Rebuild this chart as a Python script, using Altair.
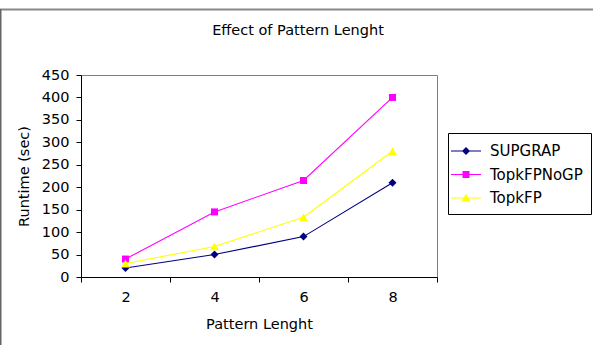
import altair as alt
import pandas as pd

# Runtime (sec) by pattern length for each algorithm
pattern_lengths = [2, 4, 6, 8]
series_names = ["SUPGRAP", "TopkFPNoGP", "TopkFP"]
supgrap = [20, 50, 90, 210]
topkfp_nogp = [40, 145, 215, 400]
topkfp = [30, 68, 133, 280]

series_colors = ["#000080", "#ff00ff", "#ffff00"]
marker_shapes = ["diamond", "square", "triangle-up"]
marker_sizes = [64, 49, 81]

# legend glyphs: a short line with the marker in the middle
legend_paths = [
    "M-1.5,-0.05H1.5V0.05H-1.5Z M0,-0.4L0.4,0L0,0.4L-0.4,0Z",
    "M-1.5,-0.05H1.5V0.05H-1.5Z M-0.35,-0.35H0.35V0.35H-0.35Z",
    "M-1.5,-0.05H1.5V0.05H-1.5Z M0,-0.42L0.45,0.36L-0.45,0.36Z",
]

rows = []
for name, vals in zip(series_names, [supgrap, topkfp_nogp, topkfp]):
    for length, v in zip(pattern_lengths, vals):
        rows.append({"length": length, "series": name, "runtime": v})
df = pd.DataFrame(rows)

FONT = "DejaVu Sans"
FS = 14.5

x_enc = alt.X(
    "length:O",
    title="Pattern Lenght",
    scale=alt.Scale(paddingInner=0, paddingOuter=0),
    axis=alt.Axis(
        labelAngle=0,
        tickBand="extent",
        tickSize=5,
        labelPadding=8,
        titlePadding=14,
        domainColor="black",
        tickColor="black",
        grid=False,
    ),
)
y_enc = alt.Y(
    "runtime:Q",
    title="Runtime (sec)",
    scale=alt.Scale(domain=[0, 450], nice=False),
    axis=alt.Axis(
        values=list(range(0, 451, 50)),
        tickSize=5,
        labelPadding=7,
        titlePadding=10,
        domainColor="black",
        tickColor="black",
        grid=False,
    ),
)

base = alt.Chart(df)

# one line + marker layer per series, fixed colours
series_layers = []
for name, color, shape, size in zip(series_names, series_colors, marker_shapes, marker_sizes):
    sub = base.transform_filter(alt.datum.series == name)
    series_layers.append(
        sub.mark_line(color=color, strokeWidth=1.1).encode(x=x_enc, y=y_enc)
    )
    series_layers.append(
        sub.mark_point(filled=True, shape=shape, size=size, color=color, opacity=1).encode(
            x=x_enc, y=y_enc
        )
    )

# legend-only layer: no rows pass the filter, the legend is built from the scales
legend_layer = (
    base.transform_filter("datum.runtime < 0")
    .mark_point(filled=True, opacity=1)
    .encode(
        x=x_enc,
        y=y_enc,
        color=alt.Color(
            "series:N",
            scale=alt.Scale(domain=series_names, range=series_colors),
            legend=alt.Legend(
                title=None,
                orient="none",
                legendX=367,
                legendY=58,
                strokeColor="black",
                fillColor="white",
                padding=8,
                symbolSize=400,
                symbolStrokeWidth=0,
                symbolOpacity=1,
                labelFont=FONT,
                labelFontSize=15,
                labelColor="black",
                labelOffset=14,
                rowPadding=5.5,
            ),
        ),
        shape=alt.Shape(
            "series:N",
            scale=alt.Scale(domain=series_names, range=legend_paths),
        ),
    )
)

frame = alt.Chart(alt.Data(values=[{}]))
frame_top = frame.mark_rule(color="#888888", strokeWidth=2).encode(
    x=alt.value(-81), x2=alt.value(600), y=alt.value(-65.5)
)
frame_left = frame.mark_rule(color="#666666", strokeWidth=2).encode(
    x=alt.value(-80.5), y=alt.value(-66), y2=alt.value(300)
)

chart = (
    alt.layer(frame_top, frame_left, *series_layers, legend_layer)
    .properties(
        width=356,
        height=202,
        autosize=alt.AutoSizeParams(type="none"),
        padding={"left": 81, "top": 75, "right": 156, "bottom": 68},
        background="white",
        title=alt.TitleParams(
            "Effect of Pattern Lenght",
            font=FONT,
            fontSize=FS,
            fontWeight="normal",
            color="black",
            anchor="middle",
            frame="group",
            dx=39,
            offset=-30,
        ),
    )
    .configure_view(stroke="#808080", strokeWidth=1)
    .configure_axis(
        labelFont=FONT,
        labelFontSize=FS,
        labelColor="black",
        titleFont=FONT,
        titleFontSize=FS,
        titleFontWeight="normal",
        titleColor="black",
    )
)

chart.save("out.html", embed_options={"renderer": "svg", "actions": False})
